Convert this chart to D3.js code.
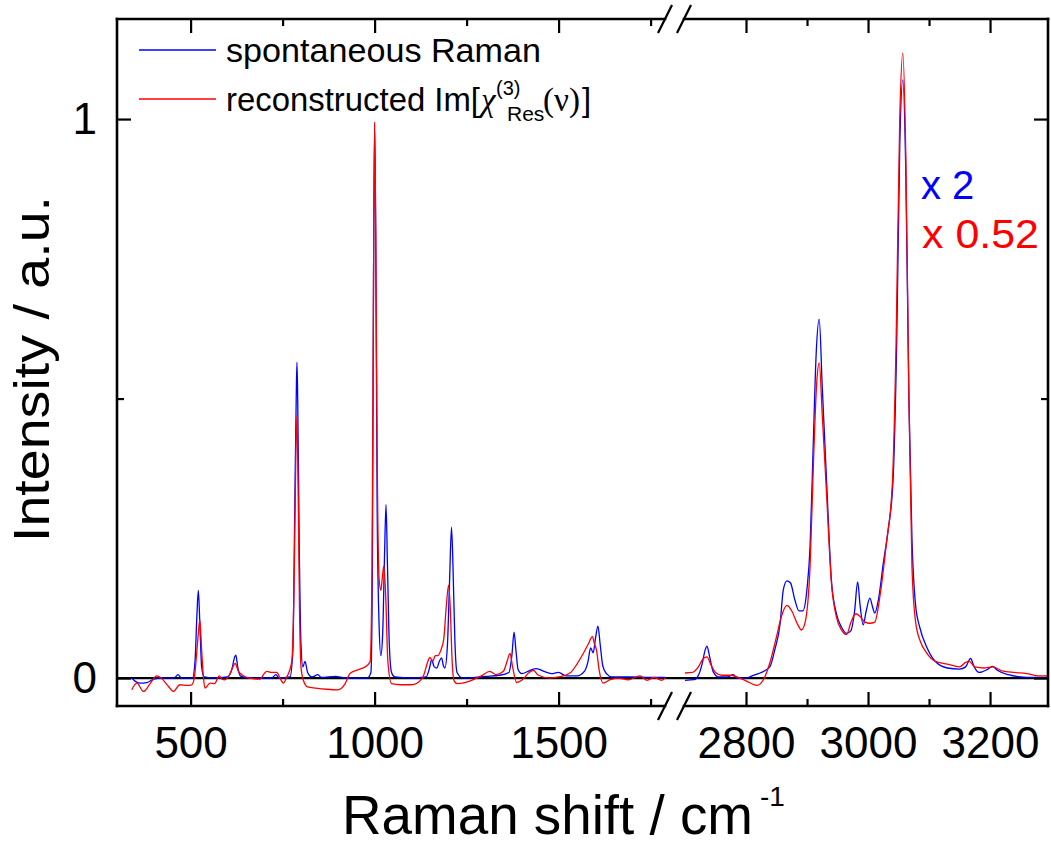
<!DOCTYPE html>
<html>
<head>
<meta charset="utf-8">
<script src="https://cdn.jsdelivr.net/npm/d3@7"></script>
<style>
  html, body { margin: 0; padding: 0; background: #fff; }
  svg { display: block; font-family: "Liberation Sans", Arial, sans-serif; }
</style>
</head>
<body>
<svg id="chart" width="1051" height="847"></svg>
<script>
// ---------------- data (wavenumber cm-1, intensity a.u.) ----------------
const spontaneousLow = [
  [340,0.0],[350,-0.006],[362,-0.009],[381,-0.008],[400,-0.002],[420,0],[455,0],[466,0.006],[475,0],
  [505,0.0],[512,0.03],[517,0.11],[521,0.157],[525,0.1],[530,0.02],[537,0.002],[560,0],[600,0.002],
  [612,0.015],[620,0.038],[623,0.041],[628,0.02],[635,0.004],[660,0],[720,0.0],[732,0.006],[740,0.0],
  [770,0.002],[778,0.05],[783,0.3],[787,0.5],[789,0.565],[791,0.5],[795,0.25],[800,0.06],[805,0.02],
  [811,0.03],[818,0.01],[830,0.002],[846,0.006],[855,0.001],[894,0.003],[920,0],[980,0.0],[990,0.01],
  [994,0.2],[997,0.7],[1000,0.99],[1003,0.8],[1007,0.3],[1012,0.1],[1017,0.04],[1022,0.08],[1027,0.22],
  [1031,0.31],[1035,0.2],[1040,0.06],[1046,0.01],[1055,0.002],[1100,0],[1140,0.002],[1150,0.02],
  [1155,0.033],[1162,0.02],[1169,0.018],[1176,0.03],[1182,0.036],[1187,0.022],[1191,0.018],[1198,0.06],
  [1204,0.18],[1209,0.27],[1213,0.2],[1218,0.07],[1224,0.01],[1240,0.0],[1300,0.003],[1340,0.005],
  [1365,0.01],[1373,0.04],[1379,0.082],[1384,0.05],[1390,0.015],[1400,0.008],[1420,0.013],[1440,0.017],
  [1460,0.012],[1480,0.008],[1500,0.01],[1520,0.004],[1550,0.004],[1570,0.012],[1580,0.03],[1587,0.054],
  [1594,0.045],[1600,0.07],[1607,0.093],[1613,0.06],[1620,0.022],[1630,0.008],[1645,0.002],[1700,0.002],
  [1750,0.001],[1790,0.001]
];
const reconstructedLow = [
  [340,-0.021],[354,-0.009],[372,-0.024],[390,-0.01],[408,0.004],[420,0],[440,-0.015],[453,-0.024],
  [471,-0.012],[490,-0.013],[503,-0.012],[510,0.0],[516,0.04],[521,0.08],[525,0.104],[530,0.05],[535,0.0],
  [539,-0.018],[553,-0.009],[565,-0.01],[578,0.004],[585,-0.002],[593,-0.003],[605,0.005],[615,0.02],
  [621,0.026],[630,0.012],[639,0.006],[660,0.0],[689,-0.002],[700,0.008],[707,0.012],[720,0.01],[734,0.01],
  [745,-0.003],[752,-0.009],[760,0.0],[775,0.03],[782,0.2],[786,0.4],[789,0.47],[792,0.35],[796,0.12],
  [800,0.02],[806,-0.003],[818,-0.016],[840,-0.018],[870,-0.02],[900,-0.021],[920,-0.01],[933,0.008],
  [956,0.015],[979,0.022],[988,0.03],[993,0.2],[997,0.7],[1000,0.995],[1003,0.8],[1007,0.4],[1012,0.18],
  [1017,0.157],[1021,0.18],[1025,0.2],[1030,0.15],[1036,0.03],[1046,-0.01],[1070,-0.012],[1100,-0.012],
  [1130,0.0],[1145,0.03],[1150,0.037],[1158,0.03],[1165,0.04],[1172,0.04],[1180,0.05],[1188,0.07],
  [1195,0.13],[1201,0.166],[1206,0.12],[1210,0.04],[1216,-0.005],[1225,-0.01],[1245,-0.008],[1260,-0.005],
  [1290,0.004],[1313,0.012],[1330,0.006],[1350,0.012],[1360,0.03],[1368,0.044],[1375,0.02],[1386,-0.008],
  [1400,-0.004],[1420,0.01],[1431,0.014],[1445,0.005],[1476,0.0],[1500,0.002],[1531,0.009],[1550,0.025],
  [1567,0.044],[1580,0.06],[1592,0.074],[1597,0.062],[1603,0.05],[1610,0.015],[1621,-0.009],[1640,-0.003],
  [1660,0.0],[1690,-0.003],[1721,0.004],[1740,-0.004],[1760,0.001],[1780,-0.004],[1790,0.0]
];
const spontaneousHigh = [
  [2700,-0.004],[2715,-0.003],[2722,0.005],[2728,0.025],[2733,0.05],[2736,0.057],[2740,0.04],[2746,0.012],
  [2755,0.002],[2770,0.002],[2779,0.006],[2785,0.0],[2800,0.0],[2810,0.004],[2823,0.009],[2839,0.02],
  [2847,0.05],[2856,0.098],[2861,0.157],[2867,0.174],[2873,0.17],[2880,0.14],[2887,0.12],[2893,0.12],
  [2900,0.16],[2905,0.235],[2910,0.41],[2915,0.58],[2920,0.642],[2925,0.52],[2932,0.354],[2940,0.175],
  [2948,0.116],[2957,0.09],[2965,0.08],[2972,0.085],[2978,0.12],[2983,0.172],[2987,0.13],[2992,0.095],
  [2997,0.12],[3003,0.143],[3008,0.125],[3011,0.116],[3017,0.14],[3025,0.205],[3033,0.265],[3041,0.354],
  [3047,0.6],[3052,0.95],[3057,1.07],[3062,0.9],[3067,0.5],[3072,0.25],[3078,0.13],[3085,0.09],
  [3096,0.056],[3110,0.03],[3130,0.018],[3150,0.016],[3160,0.02],[3168,0.035],[3174,0.02],[3182,0.01],
  [3195,0.015],[3204,0.021],[3212,0.014],[3230,0.006],[3250,0.002],[3270,0.001],[3295,0.001]
];
const reconstructedHigh = [
  [2700,0.009],[2712,0.01],[2722,0.02],[2730,0.035],[2736,0.038],[2742,0.025],[2750,0.01],[2760,0.005],
  [2775,0.005],[2790,0.0],[2800,-0.005],[2818,-0.013],[2828,-0.004],[2839,0.027],[2850,0.074],[2858,0.11],
  [2867,0.13],[2875,0.12],[2885,0.095],[2891,0.086],[2897,0.1],[2905,0.2],[2911,0.4],[2916,0.53],
  [2920,0.564],[2925,0.47],[2932,0.33],[2940,0.17],[2948,0.11],[2957,0.085],[2965,0.078],[2972,0.1],
  [2980,0.115],[2987,0.11],[2995,0.1],[3003,0.098],[3011,0.1],[3020,0.15],[3030,0.24],[3040,0.35],
  [3046,0.6],[3052,1.0],[3057,1.118],[3062,0.93],[3067,0.5],[3072,0.2],[3078,0.1],[3086,0.065],
  [3096,0.045],[3110,0.03],[3130,0.025],[3150,0.02],[3160,0.028],[3166,0.03],[3175,0.02],[3190,0.018],
  [3204,0.02],[3220,0.013],[3240,0.01],[3260,0.008],[3280,0.004],[3295,0.004]
];
const lowMajorTicks = [500, 1000, 1500];
const lowMinorTicks = [750, 1250, 1750];
const highMajorTicks = [2800, 3000, 3200];
const highMinorTicks = [2900, 3100];
const yMajorTicks = [0, 1];
const yMinorTicks = [0.5];
const seriesNames = ["spontaneous Raman", "reconstructed Im"];
const scaleFactors = ["x 2", "x 0.52"];

// ---------------- layout ----------------
const L = 117, R = 1048, T = 19, B = 706;
const breakL = 669, breakR = 685;
const BLUE = "#0000ff", RED = "#ff0000";

const svg = d3.select("#chart");
const xLow = d3.scaleLinear().domain([300, 1800]).range([L, breakL]);
const xHigh = d3.scaleLinear().domain([2700, 3295]).range([breakR, R]);
const y = d3.scaleLinear().domain([-0.05, 1.179]).range([B, T]);

// zero line
svg.append("line").attr("x1", L).attr("x2", R).attr("y1", y(0)).attr("y2", y(0))
  .attr("stroke", "#000").attr("stroke-width", 2.2);

// data lines
function drawLine(data, xs, color) {
  const line = d3.line().x(d => xs(d[0])).y(d => y(d[1])).curve(d3.curveMonotoneX);
  svg.append("path").datum(data).attr("d", line)
    .attr("fill", "none").attr("stroke", color).attr("stroke-width", 1.3)
    .attr("stroke-linejoin", "round");
}
drawLine(spontaneousLow, xLow, BLUE);
drawLine(spontaneousHigh, xHigh, BLUE);
drawLine(reconstructedLow, xLow, RED);
drawLine(reconstructedHigh, xHigh, RED);

// axes (ticks inward)
function styleAxis(g) {
  g.select(".domain").remove();
  g.selectAll(".tick line").attr("stroke", "#000").attr("stroke-width", 2.2);
  g.selectAll("text").attr("fill", "#000").style("font-size", "44px")
    .style("font-family", "'Liberation Sans', Arial, sans-serif");
}
function xAxes(xs, major, minor) {
  svg.append("g").attr("transform", `translate(0,${B})`)
    .call(d3.axisBottom(xs).tickValues(major).tickSize(-14).tickPadding(21).tickFormat(d3.format("d")))
    .call(styleAxis);
  svg.append("g").attr("transform", `translate(0,${B})`)
    .call(d3.axisBottom(xs).tickValues(minor).tickSize(-7).tickFormat(""))
    .call(styleAxis);
  svg.append("g").attr("transform", `translate(0,${T})`)
    .call(d3.axisTop(xs).tickValues(major).tickSize(-14).tickFormat(""))
    .call(styleAxis);
  svg.append("g").attr("transform", `translate(0,${T})`)
    .call(d3.axisTop(xs).tickValues(minor).tickSize(-7).tickFormat(""))
    .call(styleAxis);
}
xAxes(xLow, lowMajorTicks, lowMinorTicks);
xAxes(xHigh, highMajorTicks, highMinorTicks);

svg.append("g").attr("transform", `translate(${L},0)`)
  .call(d3.axisLeft(y).tickValues(yMajorTicks).tickSize(-14).tickPadding(20).tickFormat(d3.format("d")))
  .call(styleAxis);
svg.append("g").attr("transform", `translate(${L},0)`)
  .call(d3.axisLeft(y).tickValues(yMinorTicks).tickSize(-7).tickFormat(""))
  .call(styleAxis);
svg.append("g").attr("transform", `translate(${R},0)`)
  .call(d3.axisRight(y).tickValues(yMajorTicks).tickSize(-14).tickFormat(""))
  .call(styleAxis);
svg.append("g").attr("transform", `translate(${R},0)`)
  .call(d3.axisRight(y).tickValues(yMinorTicks).tickSize(-7).tickFormat(""))
  .call(styleAxis);

// frame with axis break
const frame = svg.append("g").attr("stroke", "#000").attr("stroke-width", 2.6).attr("fill", "none")
  .attr("stroke-linecap", "square");
frame.append("line").attr("x1", L).attr("x2", L).attr("y1", T).attr("y2", B);
frame.append("line").attr("x1", R).attr("x2", R).attr("y1", T).attr("y2", B);
[T, B].forEach(yy => {
  frame.append("line").attr("x1", L).attr("x2", 665).attr("y1", yy).attr("y2", yy);
  frame.append("line").attr("x1", 684).attr("x2", R).attr("y1", yy).attr("y2", yy);
  [665, 684].forEach(cx => {
    svg.append("line").attr("x1", cx - 7).attr("y1", yy + 14).attr("x2", cx + 7).attr("y2", yy - 14)
      .attr("stroke", "#000").attr("stroke-width", 2.2);
  });
});

// axis titles
svg.append("text").attr("x", 342).attr("y", 834).attr("fill", "#000")
  .style("font-size", "55px").attr("textLength", 411).attr("lengthAdjust", "spacingAndGlyphs")
  .text("Raman shift / cm");
svg.append("text").attr("x", 760).attr("y", 806).style("font-size", "28px").attr("fill", "#000").text("-1");

svg.append("text").attr("transform", "translate(49,542) rotate(-90)").attr("fill", "#000")
  .style("font-size", "50px").attr("textLength", 346).attr("lengthAdjust", "spacingAndGlyphs")
  .text("Intensity / a.u.");

// legend
svg.append("line").attr("x1", 139).attr("x2", 216).attr("y1", 50).attr("y2", 50)
  .attr("stroke", BLUE).attr("stroke-width", 1.3);
svg.append("line").attr("x1", 139).attr("x2", 216).attr("y1", 99).attr("y2", 99)
  .attr("stroke", RED).attr("stroke-width", 1.3);
svg.append("text").attr("x", 226).attr("y", 62).style("font-size", "33px").attr("fill", "#000")
  .attr("textLength", 315).attr("lengthAdjust", "spacingAndGlyphs").text(seriesNames[0]);
svg.append("text").attr("x", 226).attr("y", 111).style("font-size", "33px").attr("fill", "#000")
  .attr("textLength", 254).attr("lengthAdjust", "spacingAndGlyphs").text(seriesNames[1] + "[");
const serif = "'Liberation Serif', 'DejaVu Serif', serif";
svg.append("text").attr("x", 481).attr("y", 111).style("font-size", "33px").style("font-family", serif)
  .style("font-style", "italic").attr("fill", "#000").text("\u03C7");
svg.append("text").attr("x", 496).attr("y", 95).style("font-size", "20px").attr("fill", "#000").text("(3)");
svg.append("text").attr("x", 507).attr("y", 121).style("font-size", "21px").attr("fill", "#000").text("Res");
svg.append("text").attr("x", 543).attr("y", 111).style("font-size", "33px").style("font-family", serif)
  .attr("fill", "#000").text("(\u03BD)");
svg.append("text").attr("x", 582).attr("y", 111).style("font-size", "33px").attr("fill", "#000").text("]");

// scale factors
svg.append("text").attr("x", 921).attr("y", 199).style("font-size", "40px").attr("fill", BLUE)
  .text(scaleFactors[0]);
svg.append("text").attr("x", 922).attr("y", 248).style("font-size", "40px").attr("fill", RED)
  .attr("textLength", 117).attr("lengthAdjust", "spacingAndGlyphs").text(scaleFactors[1]);
</script>
</body>
</html>
